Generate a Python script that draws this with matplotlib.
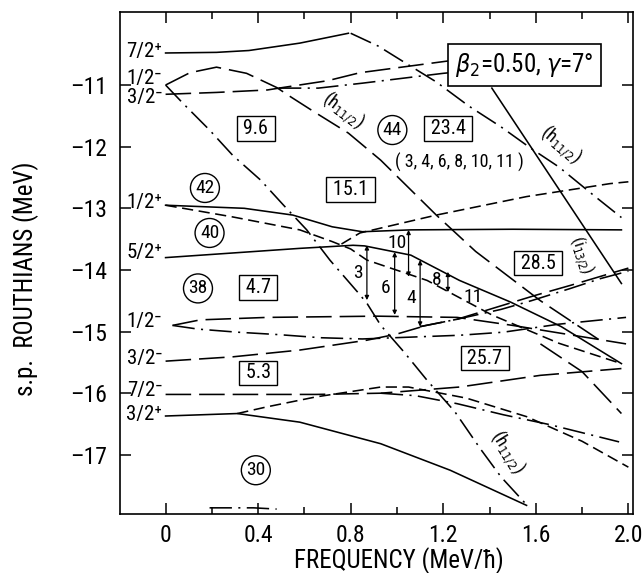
import matplotlib
matplotlib.use('Agg')
import matplotlib.pyplot as plt
from matplotlib.ticker import FixedLocator

plt.rcParams['font.family'] = ['Roboto Condensed', 'DejaVu Sans Condensed', 'Liberation Sans Narrow',
                               'DejaVu Sans']
plt.rcParams['font.stretch'] = 'condensed'
plt.rcParams['mathtext.fontset'] = 'dejavusans'

# ---------------- data ----------------
xticks = [0, 0.4, 0.8, 1.2, 1.6, 2.0]
xticklabels = ['0', '0.4', '0.8', '1.2', '1.6', '2.0']
yticks = [-17, -16, -15, -14, -13, -12, -11]
yticklabels = ['–17', '–16', '–15', '–14', '–13', '–12', '–11']

# solid
s_72p_x = [0, 0.22, 0.36, 0.58, 0.79]
s_72p_y = [-10.48, -10.47, -10.44, -10.32, -10.16]
s_steep_x = [1.41, 1.97]
s_steep_y = [-11.05, -14.22]
s_12p_x = [0, 0.34, 0.55, 0.72, 0.85, 1.06, 1.5, 1.97]
s_12p_y = [-12.95, -13.0, -13.11, -13.30, -13.38, -13.35, -13.34, -13.35]
s_52p_x = [0, 0.58, 0.81, 0.86, 1.06, 1.27, 1.49, 1.71, 1.97]
s_52p_y = [-13.80, -13.65, -13.60, -13.61, -13.76, -14.17, -14.52, -14.92, -15.52]
s_32p_x = [0, 0.31, 0.58, 0.93, 1.23, 1.56]
s_32p_y = [-16.37, -16.33, -16.47, -16.82, -17.25, -17.82]

# short dashed
sd_a_x = [0, 0.29, 0.58, 0.72, 0.80, 0.87, 1.13, 1.41, 1.70, 1.97]
sd_a_y = [-12.95, -13.14, -13.35, -13.54, -13.66, -13.84, -14.17, -14.73, -15.19, -15.52]
sd_b_x = [0.76, 0.84, 1.17, 1.56, 1.92, 2.0]
sd_b_y = [-13.58, -13.40, -13.11, -12.81, -12.60, -12.57]
sd_c_x = [0.31, 0.44, 0.65, 0.93, 1.05, 1.30, 1.56, 1.80, 2.0]
sd_c_y = [-16.33, -16.22, -16.06, -15.90, -15.90, -16.08, -16.38, -16.78, -17.20]

# long dashed
ld_a_x = [0, 0.105, 0.22, 0.35, 0.48, 0.54, 0.64, 0.79, 0.93, 1.17, 1.34, 1.62, 1.90]
ld_a_y = [-11.0, -10.80, -10.71, -10.81, -11.04, -11.19, -11.43, -11.78, -12.22, -13.11, -13.70, -14.50, -15.20]
ld_b_x = [0, 0.22, 0.44, 0.49, 0.70, 0.84, 1.20, 1.5]
ld_b_y = [-11.15, -11.12, -11.08, -11.05, -10.93, -10.80, -10.62, -10.47]
ld_c_x = [0.03, 0.15, 0.44, 0.91, 1.26, 1.50, 1.99]
ld_c_y = [-14.90, -14.81, -14.77, -14.75, -14.77, -14.90, -15.20]
ld_d_x = [0, 0.29, 0.58, 0.87, 1.00, 1.10]
ld_d_y = [-15.48, -15.41, -15.30, -15.14, -15.04, -14.93]
ld_e_x = [0, 0.65, 0.93, 1.27, 1.62, 1.97]
ld_e_y = [-16.02, -16.02, -16.00, -15.90, -15.71, -15.60]
ld_f_x = [1.10, 1.26, 1.60, 1.75, 2.0]
ld_f_y = [-14.92, -14.80, -14.41, -14.25, -13.97]
ld_g_x = [1.62, 1.80, 1.97]
ld_g_y = [-15.20, -15.65, -16.33]

# dash-dot (with dots)
dd_a_x = [0.80, 0.92, 1.04, 1.17, 1.31, 1.45, 1.58, 1.70, 1.85, 1.97]
dd_a_y = [-10.16, -10.37, -10.65, -10.95, -11.34, -11.68, -12.03, -12.33, -12.79, -13.15]
dd_b_x = [0.49, 0.66, 0.85, 1.20, 1.5]
dd_b_y = [-11.05, -11.05, -10.97, -10.81, -10.70]
dd_c_x = [0, 0.076, 0.19, 0.29, 0.41, 0.51, 0.61, 0.71, 0.83, 0.87, 0.93, 1.03, 1.13, 1.25, 1.36, 1.45, 1.57]
dd_c_y = [-11.0, -11.30, -11.73, -12.14, -12.54, -12.95, -13.35, -13.84, -14.36, -14.54, -14.90, -15.33, -15.79, -16.30, -16.90, -17.36, -17.85]
dd_d_x = [0.03, 0.14, 0.31, 0.49, 0.67, 0.85, 1.06, 1.27, 1.46, 1.70, 1.99]
dd_d_y = [-14.90, -14.96, -15.01, -15.05, -15.10, -15.12, -15.09, -15.06, -15.01, -14.88, -14.77]
dd_e_x = [1.10, 1.26, 1.45, 1.58, 1.75, 1.88, 2.0]
dd_e_y = [-14.92, -14.80, -14.64, -14.50, -14.30, -14.14, -14.02]
dd_f_x = [0.93, 1.08, 1.26, 1.46, 1.66, 1.81, 1.96]
dd_f_y = [-16.00, -16.04, -16.17, -16.35, -16.51, -16.65, -16.79]
dd_g_x = [0.19, 0.26, 0.38, 0.48]
dd_g_y = [-17.86, -17.86, -17.86, -17.88]

# arrows: x, y_top, y_bottom
arrow_x = [0.87, 0.99, 1.05, 1.10, 1.22]
arrow_top = [-13.60, -13.71, -13.35, -13.84, -14.03]
arrow_bot = [-14.49, -14.73, -14.11, -14.92, -14.36]

# level-spacing numbers beside the arrows
num_labels = ['3', '6', '10', '4', '8', '11']
num_x = [0.83, 0.95, 1.00, 1.06, 1.17, 1.33]
num_y = [-14.05, -14.30, -13.57, -14.46, -14.17, -14.44]

left_labels = ['7/2⁺', '1/2⁻', '3/2⁻', '1/2⁺', '5/2⁺', '1/2⁻', '3/2⁻', '7/2⁻', '3/2⁺']
left_label_y = [-10.45, -10.90, -11.2, -12.9, -13.72, -14.83, -15.44, -15.95, -16.35]

box_labels = ['9.6', '15.1', '23.4', '4.7', '5.3', '28.5', '25.7']
box_x = [0.39, 0.80, 1.22, 0.40, 0.40, 1.61, 1.38]
box_y = [-11.71, -12.69, -11.71, -14.29, -15.67, -13.89, -15.43]

circ_labels = ['42', '40', '44', '38', '30']
circ_x = [0.17, 0.19, 0.98, 0.14, 0.39]
circ_y = [-12.67, -13.40, -11.73, -14.30, -17.25]

# ---------------- figure ----------------
fig = plt.figure(figsize=(6.44, 5.73), dpi=100)
ax = fig.add_axes([120/644, 59/573, 513/644, 502/573])
ax.set_xlim(-0.197, 2.02)
ax.set_ylim(-17.96, -9.815)

SD = (7, 3.5)
LD = (16, 5)
DDs = (14, 4, 1.3, 4)
k = dict(color='black', lw=1.15)

for x, y in [(s_72p_x, s_72p_y), (s_steep_x, s_steep_y), (s_12p_x, s_12p_y),
             (s_52p_x, s_52p_y), (s_32p_x, s_32p_y)]:
    ax.plot(x, y, '-', **k)
for x, y in [(sd_a_x, sd_a_y), (sd_b_x, sd_b_y), (sd_c_x, sd_c_y)]:
    ax.plot(x, y, '--', dashes=SD, **k)
for x, y in [(ld_a_x, ld_a_y), (ld_b_x, ld_b_y), (ld_c_x, ld_c_y), (ld_d_x, ld_d_y),
             (ld_e_x, ld_e_y), (ld_f_x, ld_f_y), (ld_g_x, ld_g_y)]:
    ax.plot(x, y, '--', dashes=LD, **k)
for x, y in [(dd_a_x, dd_a_y), (dd_b_x, dd_b_y), (dd_c_x, dd_c_y), (dd_d_x, dd_d_y),
             (dd_e_x, dd_e_y), (dd_f_x, dd_f_y), (dd_g_x, dd_g_y)]:
    ax.plot(x, y, '-.', dashes=DDs, **k)

for xa, yt, yb in zip(arrow_x, arrow_top, arrow_bot):
    ax.annotate('', xy=(xa, yb), xytext=(xa, yt),
                arrowprops=dict(arrowstyle='<|-|>', color='black', lw=0.9,
                                mutation_scale=6, shrinkA=0, shrinkB=0))
for lab, xx, yy in zip(num_labels, num_x, num_y):
    ax.text(xx, yy, lab, ha='center', va='center', fontsize=14)

for lab, yy in zip(left_labels, left_label_y):
    ax.text(-0.015, yy, lab, ha='right', va='center', fontsize=15)

for lab, xx, yy in zip(box_labels, box_x, box_y):
    ax.text(xx, yy, '\u2009' + lab + '\u2009', ha='center', va='center', fontsize=14.5,
            bbox=dict(boxstyle='square,pad=0.14', fc='white', ec='black', lw=1.0))
for lab, xx, yy in zip(circ_labels, circ_x, circ_y):
    ax.text(xx, yy, lab, ha='center', va='center', fontsize=14,
            bbox=dict(boxstyle='circle,pad=0.25', fc='white', ec='black', lw=1.0))

ax.text(1.27, -12.26, '( 3, 4, 6, 8, 10, 11 )', ha='center', va='center', fontsize=13)
ax.text(0.77, -11.40, '(h$_{11/2}$)', ha='center', va='center', fontsize=13, rotation=-37)
ax.text(1.71, -11.96, '(h$_{11/2}$)', ha='center', va='center', fontsize=13, rotation=-40)
ax.text(1.48, -16.95, '(h$_{11/2}$)', ha='center', va='center', fontsize=13, rotation=-58)
ax.text(1.80, -13.76, '(i$_{13/2}$)', ha='center', va='center', fontsize=12, rotation=-72)

ax.text(1.55, -10.67, r'$\beta_2$=0.50, $\gamma$=7°', ha='center', va='center', fontsize=18,
        zorder=10,
        bbox=dict(boxstyle='square,pad=0.28', fc='white', ec='black', lw=1.2))

ax.xaxis.set_major_locator(FixedLocator(xticks))
ax.set_xticklabels(xticklabels)
ax.xaxis.set_minor_locator(FixedLocator([0.2, 0.6, 1.0, 1.4, 1.8]))
ax.yaxis.set_major_locator(FixedLocator(yticks))
ax.set_yticklabels(yticklabels)
ax.tick_params(which='both', direction='in', top=True, right=True, labelsize=17, width=1.1)
ax.tick_params(which='major', length=8)
ax.tick_params(which='minor', length=5)
ax.tick_params(axis='x', pad=7)
ax.tick_params(axis='y', pad=9)
for sp in ax.spines.values():
    sp.set_linewidth(1.2)

ax.text(0.544, -0.1076, 'FREQUENCY (MeV/ħ)', transform=ax.transAxes, ha='center', va='baseline',
        fontsize=18)
ax.text(-0.185, 0.468, 's.p.  ROUTHIANS (MeV)', transform=ax.transAxes, ha='center', va='center',
        rotation=90, fontsize=18)

fig.savefig('out.png', dpi=100)
